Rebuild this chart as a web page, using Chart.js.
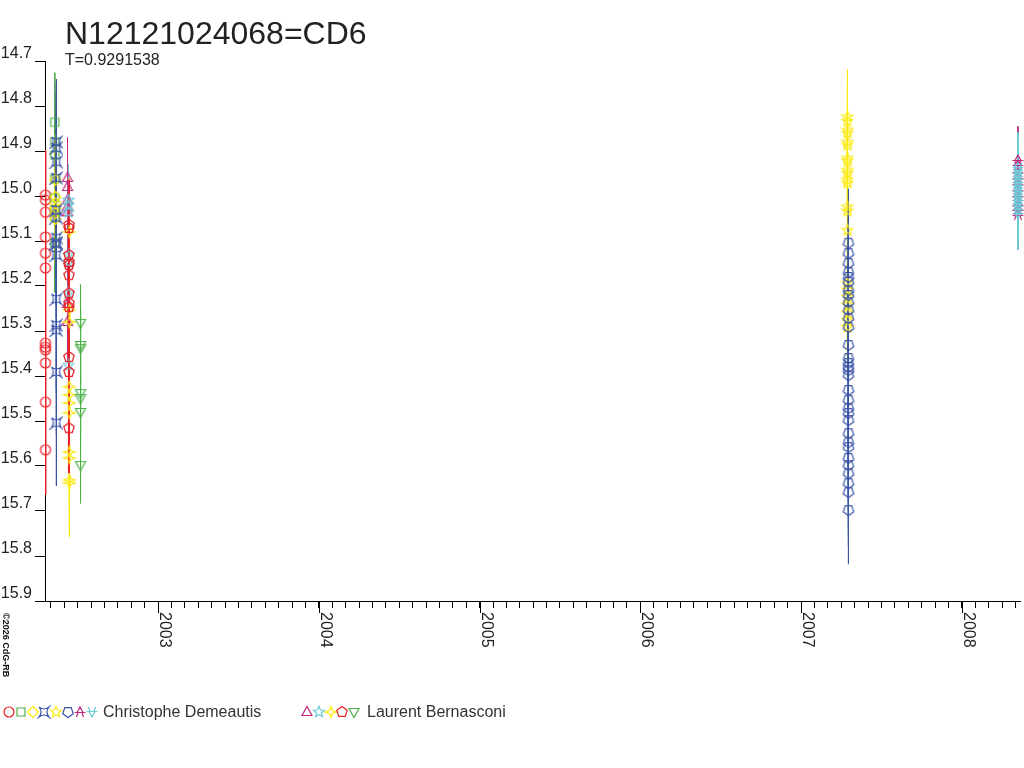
<!DOCTYPE html>
<html>
<head>
<meta charset="utf-8">
<script src="https://cdn.jsdelivr.net/npm/chart.js@4.4.0/dist/chart.umd.min.js"></script>
<style>
  html, body { margin: 0; padding: 0; background: #fff; }
  #wrap { width: 1024px; height: 768px; }
</style>
</head>
<body>
<div id="wrap"><canvas id="lc" width="1024" height="768"></canvas></div>
<script>
const FONT = '"Liberation Sans", Arial, sans-serif';
const titleText = "N12121024068=CD6";
const subtitleText = "T=0.9291538";
const copyText = "\u00a92026 CdG-RB";

const xMin = 2002.297, xMax = 2008.361;
const yMin = 14.7, yMax = 15.9;
const yearLabels = [2003, 2004, 2005, 2006, 2007, 2008];

// Christophe Demeautis
const d1Date = 2002.300, d1Err = 0.10;
const d1Mag = [14.998, 15.009, 15.036, 15.091, 15.127, 15.160, 15.327, 15.336, 15.342, 15.371, 15.458, 15.564];
const d2Date = 2002.358, d2Err = 0.11;
const d2Mag = [14.836, 14.880, 14.909, 14.962, 15.004, 15.031, 15.047, 15.104];
const d3Date = 2002.362, d3Err = 0.10;
const d3Mag = [14.964, 15.002, 15.016, 15.027, 15.038, 15.051];
const d4Date = 2002.368, d4Err = 0.14;
const d4Mag = [14.880, 14.893, 14.924, 14.960, 15.031, 15.048, 15.093, 15.104, 15.107, 15.131, 15.229, 15.287, 15.298, 15.391, 15.504];
const d5Date = 2007.288, d5Err = 0.105;
const d5Mag = [14.824, 14.833, 14.853, 14.860, 14.880, 14.887, 14.916, 14.922, 14.942, 14.949, 14.964, 14.971,
  15.024, 15.033, 15.076, 15.193, 15.209, 15.224, 15.242, 15.260, 15.276, 15.291];
const d6Date = 2007.294, d6Err = 0.12;
const d6Mag = [15.104, 15.127, 15.149, 15.169, 15.180, 15.191, 15.209, 15.220, 15.236, 15.253, 15.271, 15.291,
  15.331, 15.360, 15.371, 15.380, 15.387, 15.398, 15.431, 15.453, 15.471, 15.482, 15.498, 15.527,
  15.547, 15.558, 15.582, 15.598, 15.616, 15.638, 15.658, 15.698];
const d7Date = 2008.348, d7Err = 0.075;
const d7Mag = [14.920, 14.931, 14.947, 14.960, 14.973, 14.987, 15.000, 15.009, 15.020, 15.031, 15.042];
const d8Date = 2008.348, d8Err = 0.08;
const d8Mag = [14.938, 14.944, 14.951, 14.957, 14.964, 14.971, 14.978, 14.984, 14.991, 14.997,
  15.004, 15.011, 15.018, 15.024, 15.031, 15.040];

// Laurent Bernasconi
const b1Date = 2002.437, b1Err = 0.09;
const b1Mag = [14.960, 14.980, 15.009, 15.024, 15.036, 15.240, 15.280];
const b2Date = 2002.443, b2Err = 0.08;
const b2Mag = [15.009, 15.020, 15.036, 15.131, 15.147, 15.216, 15.376];
const b3Date = 2002.449, b3Err = 0.12;
const b3Mag = [15.080, 15.253, 15.280, 15.424, 15.442, 15.460, 15.482, 15.569, 15.582, 15.631, 15.638];
const b4Date = 2002.446, b4Err = 0.10;
const b4Mag = [15.064, 15.071, 15.131, 15.147, 15.153, 15.176, 15.216, 15.238, 15.247, 15.358, 15.391, 15.516];
const b5Date = 2002.518, b5Err = 0.085;
const b5Mag = [15.282, 15.331, 15.338, 15.438, 15.449, 15.480, 15.598];

const RED = "#ec1c24", GREEN = "#4db04a", YELLOW = "#fbe910";
const BLUE = "#3a53a8", MAGENTA = "#c1277d", CYAN = "#6dcad8";

const series = [
  { date: d1Date, mag: d1Mag, err: d1Err, color: RED, shape: "circle", bw: 2 },
  { date: d2Date, mag: d2Mag, err: d2Err, color: GREEN, shape: "square", bw: 1 },
  { date: d3Date, mag: d3Mag, err: d3Err, color: YELLOW, shape: "diamond", bw: 1 },
  { date: d4Date, mag: d4Mag, err: d4Err, color: BLUE, shape: "concave", bw: 1 },
  { date: d5Date, mag: d5Mag, err: d5Err, color: YELLOW, shape: "star5", bw: 1 },
  { date: d6Date, mag: d6Mag, err: d6Err, color: BLUE, shape: "pentDown", bw: 1 },
  { date: d7Date, mag: d7Mag, err: d7Err, color: MAGENTA, shape: "tripodUp", bw: 1 },
  { date: d8Date, mag: d8Mag, err: d8Err, color: CYAN, shape: "tripodDown", bw: 1 },
  { date: b1Date, mag: b1Mag, err: b1Err, color: MAGENTA, shape: "triUp", bw: 1 },
  { date: b2Date, mag: b2Mag, err: b2Err, color: CYAN, shape: "star5", bw: 1 },
  { date: b3Date, mag: b3Mag, err: b3Err, color: YELLOW, shape: "star4", bw: 1 },
  { date: b4Date, mag: b4Mag, err: b4Err, color: RED, shape: "pentUp", bw: 2 },
  { date: b5Date, mag: b5Mag, err: b5Err, color: GREEN, shape: "triDown", bw: 1 },
];

const legendGroups = [
  { name: "Christophe Demeautis", from: 0, to: 8, x0: 9, textX: 103 },
  { name: "Laurent Bernasconi", from: 8, to: 13, x0: 307, textX: 367 },
];

function poly(g, n, r, start) {
  for (let i = 0; i < n; i++) {
    const a = start + (i * 2 * Math.PI) / n;
    const px = r * Math.cos(a), py = r * Math.sin(a);
    i ? g.lineTo(px, py) : g.moveTo(px, py);
  }
  g.closePath();
}

function starPath(g, n, ro, ri) {
  for (let i = 0; i < n * 2; i++) {
    const a = -Math.PI / 2 + (i * Math.PI) / n;
    const r = i % 2 ? ri : ro;
    i ? g.lineTo(r * Math.cos(a), r * Math.sin(a)) : g.moveTo(r * Math.cos(a), r * Math.sin(a));
  }
  g.closePath();
}

function makeSymbol(shape, color) {
  const c = document.createElement("canvas");
  c.width = 14;
  c.height = 14;
  const g = c.getContext("2d");
  g.translate(7, 7);
  g.strokeStyle = color;
  g.lineWidth = 1.2;
  g.beginPath();
  switch (shape) {
    case "circle": g.arc(0, 0, 5, 0, Math.PI * 2); break;
    case "square": g.rect(-4, -4, 8, 8); break;
    case "diamond": poly(g, 4, 5.5, -Math.PI / 2); break;
    case "concave":
      g.moveTo(-5, -5);
      g.quadraticCurveTo(0, -1, 5, -5);
      g.quadraticCurveTo(1, 0, 5, 5);
      g.quadraticCurveTo(0, 1, -5, 5);
      g.quadraticCurveTo(-1, 0, -5, -5);
      break;
    case "star5": starPath(g, 5, 5.8, 2.5); break;
    case "star4": starPath(g, 4, 5.8, 2); break;
    case "pentDown": poly(g, 5, 5.5, Math.PI / 2); break;
    case "pentUp": poly(g, 5, 5.5, -Math.PI / 2); break;
    case "triUp": g.moveTo(0, -5.5); g.lineTo(5, 3.5); g.lineTo(-5, 3.5); g.closePath(); break;
    case "triDown": g.moveTo(0, 5.5); g.lineTo(5, -3.5); g.lineTo(-5, -3.5); g.closePath(); break;
    case "tripodUp":
    case "tripodDown": {
      const s = shape === "tripodUp" ? 1 : -1;
      g.moveTo(0, -5 * s); g.lineTo(3, 0.5 * s); g.lineTo(-3, 0.5 * s); g.closePath();
      g.moveTo(-5.5, 0.5 * s); g.lineTo(5.5, 0.5 * s);
      g.moveTo(-2, 0.5 * s); g.lineTo(-3.5, 5 * s);
      g.moveTo(2, 0.5 * s); g.lineTo(3.5, 5 * s);
      break;
    }
  }
  g.stroke();
  return c;
}

series.forEach((s) => { s.symbol = makeSymbol(s.shape, s.color); });

function errorBars(date, mags, err) {
  const out = [];
  mags.forEach((m) => {
    out.push({ x: date, y: m - err }, { x: date, y: m + err }, { x: date, y: null });
  });
  return out;
}

// later series are painted over earlier ones
const datasets = [];
series.forEach((s, i) => {
  datasets.push({
    data: errorBars(s.date, s.mag, s.err),
    showLine: true,
    borderColor: s.color,
    borderWidth: s.bw,
    pointRadius: 0,
    hoverRadius: 0,
    pointHitRadius: 0,
    spanGaps: false,
    order: 100 - i,
  });
});
series.forEach((s, i) => {
  datasets.push({
    data: s.mag.map((m) => ({ x: s.date, y: m })),
    pointStyle: s.symbol,
    pointRadius: 1,
    hoverRadius: 0,
    pointHitRadius: 0,
    pointBorderWidth: 0,
    borderColor: s.color,
    clip: false,
    order: 50 - i,
  });
});

const decorPlugin = {
  id: "decor",
  afterDraw(chart) {
    const { ctx, chartArea, scales } = chart;
    const xs = scales.x;
    ctx.save();
    ctx.fillStyle = "#222";
    ctx.textBaseline = "alphabetic";
    ctx.textAlign = "left";
    ctx.font = "32px " + FONT;
    ctx.fillText(titleText, 65, 44);
    ctx.font = "16px " + FONT;
    ctx.fillText(subtitleText, 65, 65);

    // year ticks and labels, rotated clockwise
    ctx.strokeStyle = "#000";
    ctx.lineWidth = 1;
    yearLabels.forEach((yr) => {
      const px = Math.round(xs.getPixelForValue(yr)) + 0.5;
      ctx.beginPath();
      ctx.moveTo(px, chartArea.bottom);
      ctx.lineTo(px, chartArea.bottom + 12);
      ctx.stroke();
      ctx.save();
      ctx.translate(px + 1, chartArea.bottom + 11);
      ctx.rotate(Math.PI / 2);
      ctx.font = "16px " + FONT;
      ctx.fillText(String(yr), 0, 0);
      ctx.restore();
    });

    ctx.save();
    ctx.translate(3, 613);
    ctx.rotate(Math.PI / 2);
    ctx.font = "bold 9px " + FONT;
    ctx.fillStyle = "#111";
    ctx.fillText(copyText, 0, 0);
    ctx.restore();

    // legend
    legendGroups.forEach((grp) => {
      for (let i = grp.from; i < grp.to; i++) {
        const sym = series[i].symbol;
        const cx = grp.x0 + (i - grp.from) * 11.8;
        ctx.drawImage(sym, Math.round(cx - 7), 712 - 7);
      }
      ctx.font = "16px " + FONT;
      ctx.fillStyle = "#333";
      ctx.fillText(grp.name, grp.textX, 717);
    });
    ctx.restore();
  },
};

new Chart(document.getElementById("lc"), {
  type: "scatter",
  data: { datasets },
  plugins: [decorPlugin],
  options: {
    responsive: false,
    animation: false,
    devicePixelRatio: 1,
    events: [],
    layout: { padding: { left: 0, right: 4, top: 61, bottom: 147 } },
    plugins: { legend: { display: false }, tooltip: { enabled: false } },
    scales: {
      x: {
        type: "linear",
        min: xMin,
        max: xMax,
        ticks: { stepSize: 1 / 12, autoSkip: false, includeBounds: false, maxRotation: 0, padding: 0, callback: () => "" },
        grid: { drawOnChartArea: false, drawTicks: true, tickLength: 7, color: "#000" },
        border: { display: true, color: "#000" },
        afterFit: (s) => { s.height = 20; },
      },
      y: {
        type: "linear",
        reverse: true,
        min: yMin,
        max: yMax,
        ticks: {
          stepSize: 0.1,
          autoSkip: false,
          padding: 3,
          labelOffset: -7,
          color: "#222",
          font: { size: 16, family: FONT },
          callback: (v) => Number(v).toFixed(1),
        },
        grid: { drawOnChartArea: false, drawTicks: true, tickLength: 10, color: "#000" },
        border: { display: true, color: "#000" },
        afterFit: (s) => { s.width = 45; },
      },
    },
  },
});
</script>
</body>
</html>
